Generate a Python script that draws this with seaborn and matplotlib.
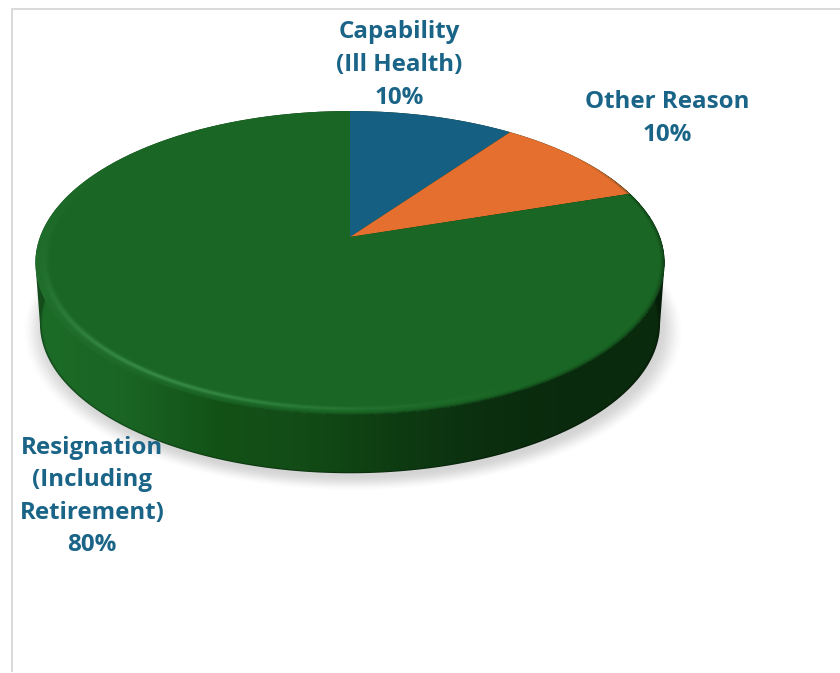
import numpy as np
import matplotlib
matplotlib.use("Agg")
import matplotlib.pyplot as plt
import seaborn as sns
from matplotlib.patches import Polygon
from matplotlib.transforms import Transform

categories = ["Capability\n(Ill Health)", "Other Reason", "Resignation\n(Including\nRetirement)"]
shares = [10, 10, 80]
slice_colors = ["#156082", "#E46F2E", "#1A6625"]
label_color = "#1A6488"
label_anchor = [(399, 65), (667, 118.5), (92, 496.5)]

sns.set_theme(style="white")
plt.rcParams["font.family"] = ["Open Sans", "DejaVu Sans"]


class TiltedDisc(Transform):
    """Projects the unit disc onto the page with a receding far edge."""
    input_dims = 2
    output_dims = 2

    def __init__(self, cx, cy, a, b, k):
        super().__init__()
        self.cx, self.cy, self.a, self.b, self.k = cx, cy, a, b, k

    def transform_non_affine(self, values):
        values = np.asarray(values, dtype=float)
        w = 1 + self.k * values[:, 1]
        return np.column_stack([self.cx + self.a * values[:, 0] / w,
                                self.cy - self.b * values[:, 1] / w])

    def unit_coords(self, px, py):
        dx, dy = px - self.cx, self.cy - py
        y = dy / (self.b - self.k * dy)
        x = dx * (1 + self.k * y) / self.a
        return x, y


def ramp(v, lo, hi):
    t = np.clip((v - lo) / (hi - lo), 0, 1)
    return t * t * (3 - 2 * t)


def rgba_layer(color, alpha):
    rgb = matplotlib.colors.to_rgb(color)
    out = np.zeros(alpha.shape + (4,))
    out[..., :3] = rgb
    out[..., 3] = alpha
    return out


W, H = 840, 673
fig = plt.figure(figsize=(W / 100, H / 100), dpi=100, facecolor="white")
ax = fig.add_axes([0, 0, 1, 1])

K = 0.171
top = TiltedDisc(350, 237, 310, 147.5, K)
floor = TiltedDisc(350, 298, 305.5, 145.3, K)
halo = TiltedDisc(353, 303, 309, 147, K)

px, py = np.meshgrid(np.arange(W) + 0.5, np.arange(H) + 0.5)
extent = (0, W, H, 0)

# soft drop shadow beneath the puck
hx, hy = halo.unit_coords(px, py)
hr = np.hypot(hx, hy)
ax.imshow(rgba_layer("#000000", 0.17 * (1 - ramp(hr, 0.975, 1.055))),
          extent=extent, aspect="auto", zorder=1, interpolation="bilinear")

# side wall, shaded from the lit left flank to the dark right flank
wall_cmap = sns.blend_palette(["#1C6C27", "#1A6524", "#135217", "#124B16", "#0E3C12",
                               "#0B2F0F", "#0A2A0D", "#0A2A0D"], as_cmap=True)
wall_rgb = wall_cmap(np.clip((px - 35) / 630, 0, 1))[..., :3]
fx, fy = floor.unit_coords(px, py)
wall_rgb = wall_rgb * (1 - 0.3 * ramp(np.hypot(fx, fy), 0.99, 1.0))[..., None]
wall_img = ax.imshow(wall_rgb, extent=extent, aspect="auto", zorder=2)

turn = np.arcsin(K)
upper = np.linspace(-turn, np.pi + turn, 200)
lower = np.linspace(np.pi + turn, 2 * np.pi - turn, 200)
outline = np.vstack([top.transform(np.column_stack([np.cos(upper), np.sin(upper)])),
                     floor.transform(np.column_stack([np.cos(lower), np.sin(lower)]))])
wall_clip = Polygon(outline, closed=True, transform=ax.transData, facecolor="none", edgecolor="none")
ax.add_patch(wall_clip)
wall_img.set_clip_path(wall_clip)

# top face: one wedge per share, starting at twelve o'clock and running clockwise
wedges, _ = ax.pie(shares, colors=slice_colors, startangle=90, counterclock=False,
                   radius=1, center=(0, 0), wedgeprops={"linewidth": 0})
for wedge in wedges:
    wedge.set_transform(top + ax.transData)
    wedge.set_zorder(3)

# bevel around the rim of the large slice
tx, ty = top.unit_coords(px, py)
tr = np.hypot(tx, ty)
phi = np.degrees(np.arctan2(ty, tx)) % 360
inside = tr <= 1.0
streak = np.exp(-((tr - 0.97) / 0.009) ** 2) * np.exp(-((phi - 238) / 34) ** 2)
flank = ramp(tr, 0.95, 0.985) * np.exp(-((phi - 200) / 38) ** 2)
ax.imshow(rgba_layer("#4FA862", np.where(inside, np.clip(0.5 * streak + 0.12 * flank, 0, 1), 0)),
          extent=extent, aspect="auto", zorder=4)
dark_span = ramp(phi, 225, 290)
dark_span = np.where(phi < 90, ramp(phi, 40, 10), dark_span)
edge_dark = ramp(tr, 0.982, 1.012)
ax.imshow(rgba_layer("#0A2A0D", np.where(inside, 0.95 * edge_dark * dark_span, 0)),
          extent=extent, aspect="auto", zorder=4)

# data labels
for name, value, (lx, ly) in zip(categories, shares, label_anchor):
    ax.text(lx, ly, f"{name}\n{value}%", ha="center", va="center", color=label_color,
            fontsize=17.4, fontweight="bold", linespacing=1.48, zorder=6)

# chart frame, visible along the top and left only
ax.plot([12, W], [8.5, 8.5], color="#D9D9D9", lw=1.4, zorder=5, solid_capstyle="butt")
ax.plot([11.5, 11.5], [8, H - 1], color="#D9D9D9", lw=1.4, zorder=5, solid_capstyle="butt")

ax.set_aspect("auto")
ax.set_xlim(0, W)
ax.set_ylim(H, 0)
ax.axis("off")
fig.savefig("out.png", dpi=100, facecolor="white")
